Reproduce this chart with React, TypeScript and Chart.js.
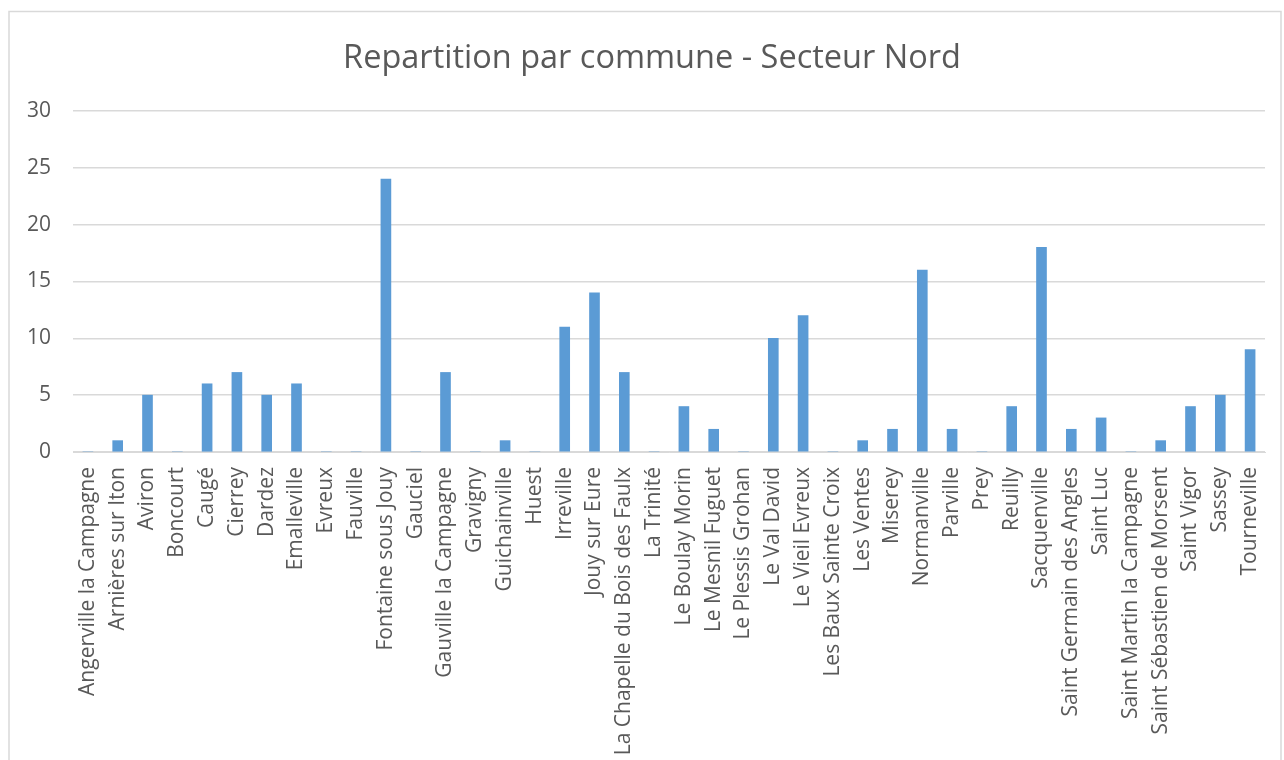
import React, { useEffect, useRef } from "react";
import { Chart, registerables } from "chart.js";

Chart.register(...registerables);

const communes: string[] = [
  "Angerville la Campagne",
  "Arnières sur Iton",
  "Aviron",
  "Boncourt",
  "Caugé",
  "Cierrey",
  "Dardez",
  "Emalleville",
  "Evreux",
  "Fauville",
  "Fontaine sous Jouy",
  "Gauciel",
  "Gauville la Campagne",
  "Gravigny",
  "Guichainville",
  "Huest",
  "Irreville",
  "Jouy sur Eure",
  "La Chapelle du Bois des Faulx",
  "La Trinité",
  "Le Boulay Morin",
  "Le Mesnil Fuguet",
  "Le Plessis Grohan",
  "Le Val David",
  "Le Vieil Evreux",
  "Les Baux Sainte Croix",
  "Les Ventes",
  "Miserey",
  "Normanville",
  "Parville",
  "Prey",
  "Reuilly",
  "Sacquenville",
  "Saint Germain des Angles",
  "Saint Luc",
  "Saint Martin la Campagne",
  "Saint Sébastien de Morsent",
  "Saint Vigor",
  "Sassey",
  "Tourneville",
];

const valeurs: number[] = [
  0, 1, 5, 0, 6, 7, 5, 6, 0, 0, 24, 0, 7, 0, 1, 0, 11, 14, 7, 0, 4, 2, 0, 10,
  12, 0, 1, 2, 16, 2, 0, 4, 18, 2, 3, 0, 1, 4, 5, 9,
];

const titre = "Repartition par commune - Secteur Nord";
const yMin = 0;
const yMax = 30;
const yStep = 5;

const FONT = "'Open Sans', 'DejaVu Sans', sans-serif";
const TEXT = "#595959";
const GRID = "#d9d9d9";
const BAR = "#5b9bd5";

const framePlugin = {
  id: "frame",
  beforeDraw(chart: any) {
    const ctx = chart.ctx;
    ctx.save();
    ctx.fillStyle = "#ffffff";
    ctx.fillRect(0, 0, chart.width, chart.height);
    ctx.strokeStyle = GRID;
    ctx.lineWidth = 1.5;
    ctx.strokeRect(9, 11.5, 1272, 800);
    ctx.restore();
  },
  afterDraw(chart: any) {
    const ctx = chart.ctx;
    ctx.save();
    ctx.fillStyle = TEXT;
    ctx.font = `normal 32.5px ${FONT}`;
    ctx.textAlign = "center";
    ctx.textBaseline = "alphabetic";
    ctx.fillText(titre, 652, 68);
    ctx.restore();
  },
};

export default function App() {
  const ref = useRef<HTMLCanvasElement | null>(null);

  useEffect(() => {
    document.body.style.margin = "0";
    const canvas = ref.current;
    if (!canvas) return;
    const chart = new Chart(canvas, {
      type: "bar",
      data: {
        labels: communes,
        datasets: [
          {
            label: "Nombre",
            data: valeurs,
            backgroundColor: BAR,
            borderWidth: 0,
            barThickness: 10,
          },
        ],
      },
      options: {
        animation: false,
        responsive: false,
        maintainAspectRatio: false,
        layout: { padding: { left: 0, right: 19, top: 111, bottom: 0 } },
        plugins: {
          legend: { display: false },
          tooltip: { enabled: false },
          title: { display: false },
        },
        scales: {
          x: {
            grid: { display: false, drawTicks: false },
            border: { display: true, color: GRID, width: 1 },
            ticks: {
              color: TEXT,
              font: { family: FONT, size: 21 },
              minRotation: 90,
              maxRotation: 90,
              autoSkip: false,
              padding: 15,
            },
            afterFit(scale: any) {
              scale.height = 308;
              scale.paddingLeft = 0;
              scale.paddingRight = 0;
            },
          },
          y: {
            min: yMin,
            max: yMax,
            grid: { color: GRID, lineWidth: 1.5, drawTicks: false },
            border: { display: false },
            ticks: {
              stepSize: yStep,
              color: TEXT,
              font: { family: FONT, size: 21 },
              padding: 22,
            },
            afterFit(scale: any) {
              scale.width = 73;
              scale.paddingTop = 0;
              scale.paddingBottom = 0;
            },
          },
        },
      },
      plugins: [framePlugin],
    });
    return () => chart.destroy();
  }, []);

  return (
    <div style={{ width: 1284, height: 760, position: "relative" }}>
      <canvas ref={ref} width={1284} height={760} style={{ display: "block" }} />
    </div>
  );
}
